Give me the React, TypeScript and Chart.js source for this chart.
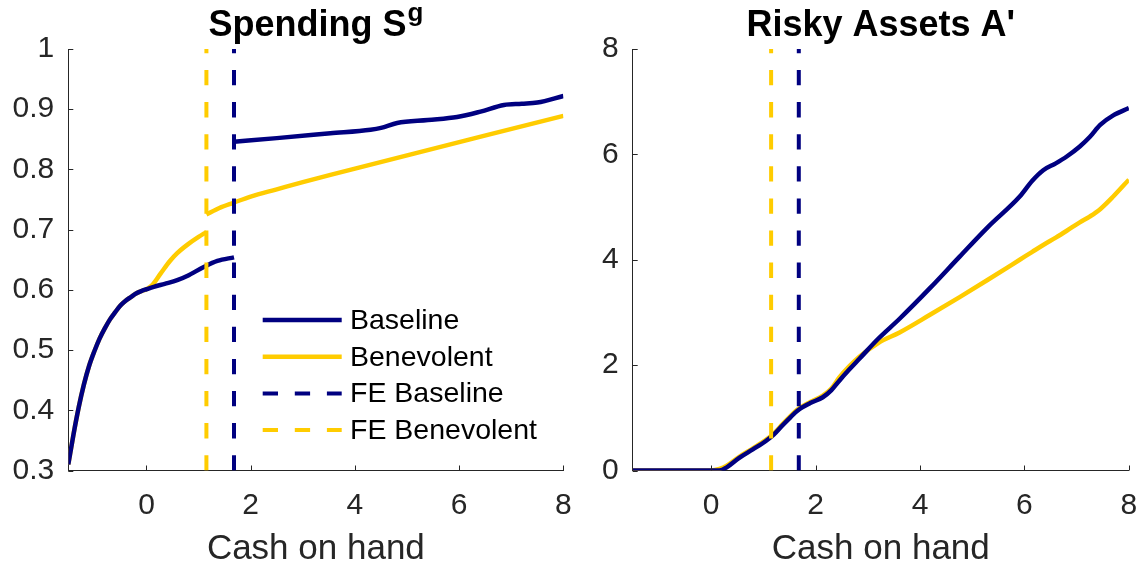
import React, { useEffect, useRef } from "react";
import { Chart, registerables } from "chart.js";

Chart.register(...registerables);

// ---------------- data ----------------
const NAVY = "#000080";
const GOLD = "#FFCC00";
const AXIS = "#262626";
const FONT = '"Liberation Sans", Arial, Helvetica, sans-serif';

const xTicks = [0, 2, 4, 6, 8];
const xTickLabels = ["0", "2", "4", "6", "8"];
const xTitle = "Cash on hand";

const spendYTicks = [0.3, 0.4, 0.5, 0.6, 0.7, 0.8, 0.9, 1];
const spendYTickLabels = ["0.3", "0.4", "0.5", "0.6", "0.7", "0.8", "0.9", "1"];
const riskYTicks = [0, 2, 4, 6, 8];
const riskYTickLabels = ["0", "2", "4", "6", "8"];

const feBaseline = 1.68;
const feBenevolent = 1.15;

// Spending S^g, Baseline (two pieces, break at FE Baseline)
const spendBaseX1 = [-1.5, -1.4, -1.3, -1.2, -1.1, -1.0, -0.9, -0.8, -0.7, -0.6, -0.5, -0.4, -0.3, -0.2, -0.1, 0, 0.14, 0.35, 0.59, 0.78, 1.1, 1.36, 1.68];
const spendBaseY1 = [0.31, 0.36, 0.405, 0.443, 0.474, 0.498, 0.519, 0.536, 0.551, 0.563, 0.574, 0.582, 0.588, 0.594, 0.598, 0.601, 0.605, 0.61, 0.616, 0.623, 0.638, 0.648, 0.654];
const spendBaseX2 = [1.68, 2.5, 3.53, 4.3, 4.5, 4.81, 5.4, 5.96, 6.41, 6.86, 7.2, 7.5, 8];
const spendBaseY2 = [0.846, 0.852, 0.86, 0.866, 0.869, 0.877, 0.882, 0.887, 0.896, 0.907, 0.909, 0.911, 0.922];

// Spending S^g, Benevolent (two pieces, break at FE Benevolent)
const spendBeneX1 = [-1.5, -1.4, -1.3, -1.2, -1.1, -1.0, -0.9, -0.8, -0.7, -0.6, -0.5, -0.4, -0.3, -0.2, -0.1, 0, 0.1, 0.27, 0.45, 0.59, 0.8, 1.0, 1.15];
const spendBeneY1 = [0.31, 0.36, 0.405, 0.443, 0.474, 0.498, 0.519, 0.536, 0.551, 0.563, 0.574, 0.582, 0.588, 0.594, 0.598, 0.601, 0.607, 0.627, 0.648, 0.661, 0.676, 0.688, 0.696];
const spendBeneX2 = [1.15, 1.4, 1.68, 2.0, 2.5, 3.0, 3.53, 8];
const spendBeneY2 = [0.725, 0.736, 0.745, 0.755, 0.767, 0.779, 0.791, 0.889];

// Risky assets A'
const riskX = [-1.5, 0, 0.16, 0.3, 0.54, 0.8, 1.05, 1.2, 1.37, 1.52, 1.66, 1.9, 2.14, 2.3, 2.46, 2.65, 2.84, 3.2, 3.61, 4.2, 4.76, 5.3, 5.91, 6.15, 6.36, 6.6, 6.81, 7.06, 7.25, 7.45, 7.7, 8];
const riskBase = [0, 0, 0, 0.06, 0.24, 0.4, 0.56, 0.68, 0.86, 1.01, 1.14, 1.28, 1.39, 1.52, 1.71, 1.92, 2.12, 2.5, 2.88, 3.47, 4.06, 4.62, 5.2, 5.5, 5.7, 5.83, 5.96, 6.15, 6.33, 6.56, 6.74, 6.88];
const riskBene = [0, 0, 0.03, 0.09, 0.26, 0.42, 0.58, 0.7, 0.88, 1.03, 1.16, 1.3, 1.42, 1.55, 1.77, 1.98, 2.16, 2.42, 2.62, 2.96, 3.29, 3.62, 4.0, 4.15, 4.28, 4.42, 4.55, 4.71, 4.82, 4.96, 5.2, 5.52];

const legendLabels = ["Baseline", "Benevolent", "FE Baseline", "FE Benevolent"];

// ---------------- styling helpers ----------------
const SOLID_W = 4.5;
const DASH_W = 4;
const DASH = [15.3, 16.8];

function lineDs(xs: number[], ys: number[], color: string, width: number, dash: number[] = []) {
  return {
    data: xs.map((x, i) => ({ x, y: ys[i] })),
    borderColor: color,
    backgroundColor: color,
    borderWidth: width,
    borderDash: dash,
    borderCapStyle: "butt",
    pointRadius: 0,
    pointHoverRadius: 0,
    fill: false,
    cubicInterpolationMode: "monotone",
  };
}

function vline(x: number, y0: number, y1: number, color: string) {
  const d: any = lineDs([x, x], [y0, y1], color, DASH_W, DASH);
  d.cubicInterpolationMode = "default";
  d.tension = 0;
  return d;
}

const tickMarks = {
  id: "tickMarks",
  afterDraw(chart: any) {
    const { ctx, chartArea } = chart;
    const xs = chart.scales.x;
    const ys = chart.scales.y;
    ctx.save();
    ctx.strokeStyle = AXIS;
    ctx.lineWidth = 1;
    ctx.beginPath();
    xs.ticks.forEach((t: any) => {
      const px = Math.round(xs.getPixelForValue(t.value)) + 0.5;
      ctx.moveTo(px, chartArea.bottom);
      ctx.lineTo(px, chartArea.bottom - 5);
    });
    ys.ticks.forEach((t: any) => {
      const py = Math.round(ys.getPixelForValue(t.value)) + 0.5;
      ctx.moveTo(chartArea.left, py);
      ctx.lineTo(chartArea.left + 5, py);
    });
    ctx.stroke();
    ctx.restore();
  },
};

const titlePlugin = {
  id: "mtitle",
  afterDraw(chart: any, _args: any, opts: any) {
    const { ctx, chartArea } = chart;
    const cx = (chartArea.left + chartArea.right) / 2;
    ctx.save();
    ctx.fillStyle = "#000";
    ctx.textBaseline = "alphabetic";
    ctx.textAlign = "left";
    ctx.font = `bold ${opts.size}px ${FONT}`;
    const w1 = ctx.measureText(opts.text).width;
    let w2 = 0;
    if (opts.sup) {
      ctx.font = `bold ${opts.supSize}px ${FONT}`;
      w2 = ctx.measureText(opts.sup).width + 1;
    }
    const x0 = cx - (w1 + w2) / 2;
    ctx.font = `bold ${opts.size}px ${FONT}`;
    ctx.fillText(opts.text, x0, opts.baseline);
    if (opts.sup) {
      ctx.font = `bold ${opts.supSize}px ${FONT}`;
      ctx.fillText(opts.sup, x0 + w1 + 1, opts.supBaseline);
    }
    ctx.restore();
  },
};

const legendPlugin = {
  id: "mlegend",
  afterDraw(chart: any, _args: any, opts: any) {
    if (!opts || !opts.items) return;
    const { ctx } = chart;
    ctx.save();
    opts.items.forEach((it: any, i: number) => {
      const y = opts.y0 + i * opts.dy;
      ctx.beginPath();
      ctx.strokeStyle = it.color;
      ctx.lineWidth = it.dashed ? DASH_W : SOLID_W;
      ctx.setLineDash(it.dashed ? DASH : []);
      ctx.lineCap = "butt";
      ctx.moveTo(opts.x0, y);
      ctx.lineTo(opts.x1, y);
      ctx.stroke();
      ctx.setLineDash([]);
      ctx.fillStyle = "#000";
      ctx.font = `${opts.size}px ${FONT}`;
      ctx.textBaseline = "middle";
      ctx.textAlign = "left";
      ctx.fillText(it.label, opts.tx, y + 1);
    });
    ctx.restore();
  },
};

function makeScales(yMin: number, yMax: number, yTicks: number[], yLabels: string[], yWidth: number) {
  return {
    x: {
      type: "linear",
      min: -1.5,
      max: 8,
      grid: { display: false, drawTicks: false, tickLength: 0 },
      border: { display: true, color: AXIS, width: 1 },
      ticks: {
        color: AXIS,
        font: { family: FONT, size: 30 },
        padding: 17.5,
        maxRotation: 0,
        autoSkip: false,
        callback: (_v: any, i: number) => xTickLabels[i],
      },
      afterBuildTicks: (s: any) => {
        s.ticks = xTicks.map((v) => ({ value: v }));
      },
      afterFit: (s: any) => {
        s.height = 98.5;
        s.paddingLeft = 0;
        s.paddingRight = 0;
      },
      title: {
        display: true,
        text: xTitle,
        color: AXIS,
        font: { family: FONT, size: 35, lineHeight: 1.1 },
        padding: { top: 0, bottom: 0 },
      },
    },
    y: {
      type: "linear",
      min: yMin,
      max: yMax,
      grid: { display: false, drawTicks: false, tickLength: 0 },
      border: { display: true, color: AXIS, width: 1 },
      ticks: {
        color: AXIS,
        font: { family: FONT, size: 30 },
        padding: 14,
        autoSkip: false,
        callback: (_v: any, i: number) => yLabels[i],
      },
      afterBuildTicks: (s: any) => {
        s.ticks = yTicks.map((v) => ({ value: v }));
      },
      afterFit: (s: any) => {
        s.width = yWidth;
        s.paddingTop = 0;
        s.paddingBottom = 0;
      },
    },
  };
}

function leftConfig(): any {
  return {
    type: "line",
    data: {
      datasets: [
        vline(feBaseline, 0.3, 1, NAVY),
        vline(feBenevolent, 0.3, 1, GOLD),
        lineDs(spendBaseX1, spendBaseY1, NAVY, SOLID_W),
        lineDs(spendBaseX2, spendBaseY2, NAVY, SOLID_W),
        lineDs(spendBeneX1, spendBeneY1, GOLD, SOLID_W),
        lineDs(spendBeneX2, spendBeneY2, GOLD, SOLID_W),
      ],
    },
    options: {
      animation: false,
      responsive: false,
      devicePixelRatio: 1,
      events: [],
      layout: { padding: { left: 0, right: 16.6, top: 49, bottom: 0 } },
      scales: makeScales(0.3, 1, spendYTicks, spendYTickLabels, 68.3),
      plugins: {
        legend: { display: false },
        tooltip: { enabled: false },
        title: { display: false },
        mtitle: { text: "Spending S", sup: "g", size: 36, supSize: 26, baseline: 36, supBaseline: 21 },
        mlegend: {
          x0: 262.7,
          x1: 341.7,
          tx: 350,
          y0: 320,
          dy: 36.7,
          size: 28.5,
          items: [
            { label: legendLabels[0], color: NAVY, dashed: false },
            { label: legendLabels[1], color: GOLD, dashed: false },
            { label: legendLabels[2], color: NAVY, dashed: true },
            { label: legendLabels[3], color: GOLD, dashed: true },
          ],
        },
      },
    },
    plugins: [tickMarks, titlePlugin, legendPlugin],
  };
}

function rightConfig(): any {
  return {
    type: "line",
    data: {
      datasets: [
        vline(feBaseline, 0, 8, NAVY),
        vline(feBenevolent, 0, 8, GOLD),
        lineDs(riskX, riskBase, NAVY, SOLID_W),
        lineDs(riskX, riskBene, GOLD, SOLID_W),
      ],
    },
    options: {
      animation: false,
      responsive: false,
      devicePixelRatio: 1,
      events: [],
      layout: { padding: { left: 0, right: 11.1, top: 49, bottom: 0 } },
      scales: makeScales(0, 8, riskYTicks, riskYTickLabels, 52.7),
      plugins: {
        legend: { display: false },
        tooltip: { enabled: false },
        title: { display: false },
        mtitle: { text: "Risky Assets A'", size: 36, baseline: 36 },
        mlegend: {},
      },
    },
    plugins: [tickMarks, titlePlugin, legendPlugin],
  };
}

export default function App() {
  const leftRef = useRef<HTMLCanvasElement>(null);
  const rightRef = useRef<HTMLCanvasElement>(null);

  useEffect(() => {
    const c1 = new Chart(leftRef.current as HTMLCanvasElement, leftConfig());
    const c2 = new Chart(rightRef.current as HTMLCanvasElement, rightConfig());
    return () => {
      c1.destroy();
      c2.destroy();
    };
  }, []);

  return (
    <div style={{ position: "fixed", left: 0, top: 0, width: 1140, height: 569, background: "#fff", overflow: "hidden" }}>
      <canvas
        ref={leftRef}
        width={580}
        height={569}
        style={{ position: "absolute", left: 0, top: 0, width: 580, height: 569 }}
      />
      <canvas
        ref={rightRef}
        width={560}
        height={569}
        style={{ position: "absolute", left: 580, top: 0, width: 560, height: 569 }}
      />
    </div>
  );
}
